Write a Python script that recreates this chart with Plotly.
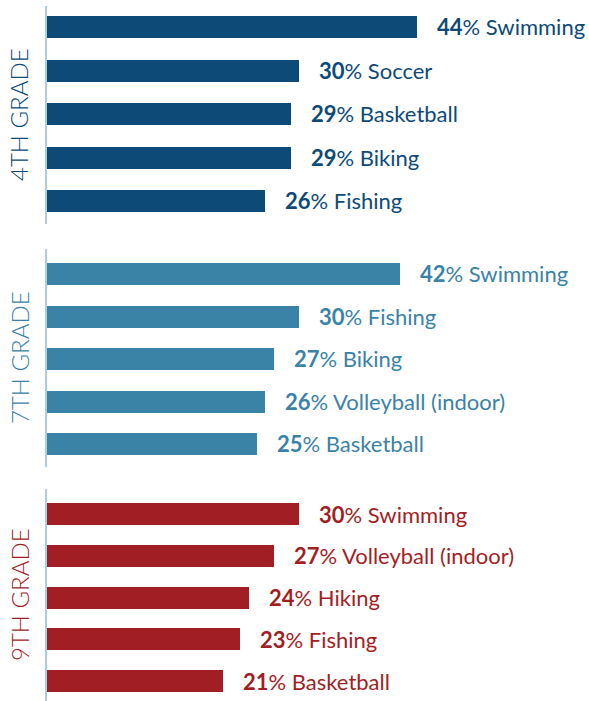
import plotly.graph_objects as go

grades = ["4TH GRADE", "7TH GRADE", "9TH GRADE"]
colors = ["#0d4a77", "#3a82a6", "#a21e25"]
sports_4 = ["Swimming", "Soccer", "Basketball", "Biking", "Fishing"]
values_4 = [44, 30, 29, 29, 26]
sports_7 = ["Swimming", "Fishing", "Biking", "Volleyball (indoor)", "Basketball"]
values_7 = [42, 30, 27, 26, 25]
sports_9 = ["Swimming", "Volleyball (indoor)", "Hiking", "Fishing", "Basketball"]
values_9 = [30, 27, 24, 23, 21]

groups = [(sports_4, values_4), (sports_7, values_7), (sports_9, values_9)]

W, H = 589, 701
ML = 47
PX_PER_PCT = 8.4
# layout per group: (axis top px, axis bottom px, first bar center px, spacing px)
geo = [(6, 224, 27, 43.5), (249, 467, 274, 42.5), (489, 701, 514, 41.75)]
BAR_PX = 22

fig = go.Figure()
annotations = []
for i, ((sports, vals), color, grade, (top, bot, c0, sp)) in enumerate(zip(groups, colors, grades, geo)):
    ax = "" if i == 0 else str(i + 1)
    pos = list(range(len(vals)))
    fig.add_trace(go.Bar(
        x=vals, y=pos, orientation="h", marker=dict(color=color, line=dict(width=0)),
        width=BAR_PX / sp, xaxis="x" + ax, yaxis="y" + ax, showlegend=False, hoverinfo="skip",
    ))
    for p, v, s in zip(pos, vals, sports):
        annotations.append(dict(
            x=v, y=p, xref="x" + ax, yref="y" + ax, xanchor="left", yanchor="middle",
            xshift=18, showarrow=False,
            text=f"<b>{v}</b>% {s}",
            font=dict(family="Lato", size=22, color=color),
        ))
    rng_top = (top - c0) / sp
    rng_bot = (bot - c0) / sp
    fig.layout["yaxis" + ax] = dict(
        domain=[1 - bot / H, 1 - top / H], range=[rng_bot, rng_top],
        showticklabels=False, showgrid=False, zeroline=False,
        showline=True, linecolor="#a8cfdf", linewidth=2, anchor="x" + ax,
    )
    fig.layout["xaxis" + ax] = dict(
        domain=[0, 1], range=[0, (W - ML) / PX_PER_PCT], anchor="y" + ax,
        showticklabels=False, showgrid=False, zeroline=False, showline=False,
    )
    annotations.append(dict(
        x=0, y=1 - (top + bot) / 2 / H, xref="paper", yref="paper",
        xshift=-28, xanchor="center", yanchor="middle", textangle=-90, showarrow=False,
        text=grade, font=dict(family="Lato", size=24, color=color, weight=300),
    ))

fig.update_layout(
    width=W, height=H, margin=dict(l=ML, r=0, t=0, b=0),
    paper_bgcolor="white", plot_bgcolor="white",
    annotations=annotations, bargap=0,
)
fig.write_html(
    "out.html",
    config={"displayModeBar": False, "staticPlot": True},
    post_script="document.body.style.margin='0';document.body.style.overflow='hidden';",
)
